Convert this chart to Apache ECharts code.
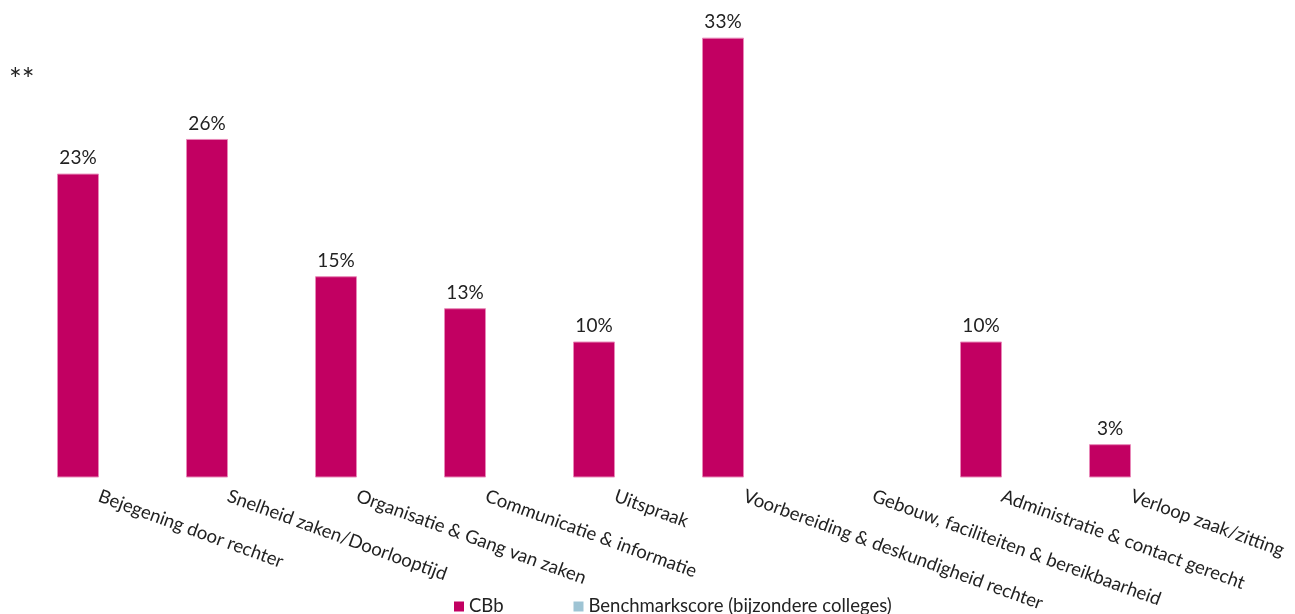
<!DOCTYPE html>
<html>
<head>
<meta charset="utf-8">
<script src="https://cdn.jsdelivr.net/npm/echarts@6/dist/echarts.min.js"></script>
<style>
html,body{margin:0;padding:0;background:#fff;}
#main{width:1295px;height:614px;}
</style>
</head>
<body>
<div id="main"></div>
<script>
var categories=['Bejegening door rechter','Snelheid zaken/Doorlooptijd','Organisatie & Gang van zaken','Communicatie & informatie','Uitspraak','Voorbereiding & deskundigheid rechter','Gebouw, faciliteiten & bereikbaarheid','Administratie & contact gerecht','Verloop zaak/zitting'];
var cbbValues=[22.8,25.4,15.1,12.7,10.2,33.0,null,10.2,2.5];
var cbbLabels=['23%','26%','15%','13%','10%','33%','','10%','3%'];
var benchValues=[null,null,null,null,null,null,null,null,null];
var seriesNames=['CBb','Benchmarkscore (bijzondere colleges)'];

var myChart=echarts.init(document.getElementById('main'));
var font='Lato';
var option={
	animation:false,
	textStyle:{fontFamily:font},
	graphic:[{
		type:'text',
		left:9,
		top:65,
		style:{text:'**',font:'30px '+font,fill:'#222'}
	}],
	legend:{
		data:seriesNames,
		left:449,
		top:592,
		itemWidth:10,
		itemHeight:10,
		itemGap:70,
		icon:'rect',
		itemStyle:{borderWidth:0},
		textStyle:{fontSize:18.5,color:'#222',fontFamily:font}
	},
	grid:{left:34.5,right:99.5,top:11,bottom:134,containLabel:false},
	xAxis:[{
		type:'category',
		data:categories,
		axisLine:{show:false},
		axisTick:{show:false},
		axisLabel:{
			interval:0,
			rotate:-20,
			margin:18,
			fontSize:18.5,
			color:'#222',
			fontFamily:font,
			hideOverlap:false
		}
	}],
	yAxis:[{
		type:'value',
		min:0,
		max:35,
		show:false,
		splitLine:{show:false}
	}],
	series:[
		{
			name:seriesNames[0],
			type:'bar',
			data:cbbValues,
			barWidth:42,
			barGap:'0%',
			itemStyle:{color:'#c20062',borderColor:'#e888b8',borderWidth:1},
			label:{
				show:true,
				position:'top',
				distance:6,
				fontSize:19,
				color:'#222',
				fontFamily:font,
				formatter:function(p){return cbbLabels[p.dataIndex];}
			}
		},
		{
			name:seriesNames[1],
			type:'bar',
			data:benchValues,
			barWidth:42,
			itemStyle:{color:'#9ec4d4'}
		}
	]
};
myChart.setOption(option);
</script>
</body>
</html>
